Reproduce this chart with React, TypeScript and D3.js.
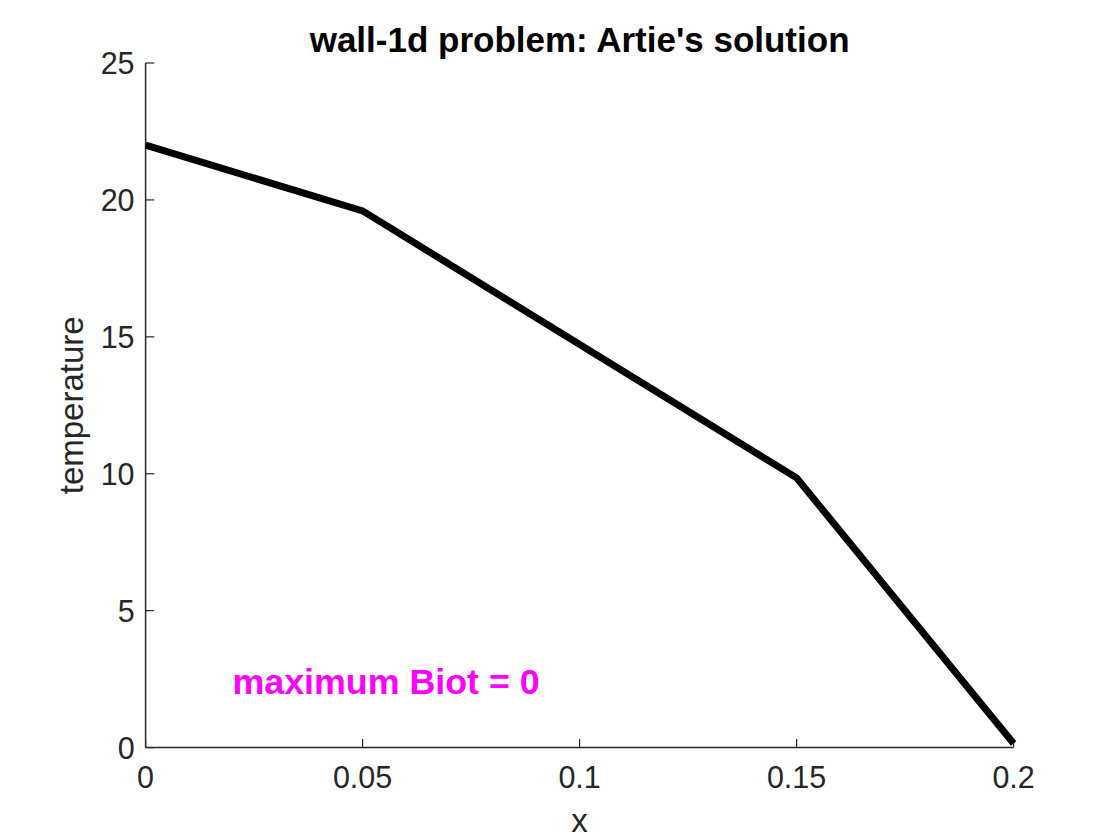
import React from "react";
import * as d3 from "d3";

const xValues = [0, 0.05, 0.15, 0.2];
const temperatures = [22.0, 19.6, 9.85, 0.15];
const xTicks = [0, 0.05, 0.1, 0.15, 0.2];
const yTicks = [0, 5, 10, 15, 20, 25];
const xTickLabels = ["0", "0.05", "0.1", "0.15", "0.2"];
const yTickLabels = ["0", "5", "10", "15", "20", "25"];
const titleText = "wall-1d problem: Artie's solution";
const xLabel = "x";
const yLabel = "temperature";
const annotation = { x: 0.02, y: 2.4, text: "maximum Biot = 0" };

const W = 1120;
const H = 840;
const left = 145.6;
const right = 1013.6;
const top = 63;
const bottom = 747.6;
const FONT = "Helvetica, Arial, 'Liberation Sans', sans-serif";
const AX = "#262626";

export default function App() {
  const x = d3.scaleLinear().domain([0, 0.2]).range([left, right]);
  const y = d3.scaleLinear().domain([0, 25]).range([bottom, top]);
  const line = d3
    .line<number>()
    .x((_, i) => x(xValues[i]))
    .y((d) => y(d));
  const tickLen = 8.7;

  return (
    <svg
      width={W}
      height={H}
      style={{ position: "absolute", left: 0, top: 0, background: "#fff" }}
      fontFamily={FONT}
    >
      <rect x={0} y={0} width={W} height={H} fill="#fff" />
      <line x1={left} x2={right} y1={bottom} y2={bottom} stroke={AX} strokeWidth={1.5} />
      <line x1={left} x2={left} y1={top} y2={bottom} stroke={AX} strokeWidth={1.5} />
      {xTicks.map((t, i) => (
        <g key={"xt" + i}>
          <line x1={x(t)} x2={x(t)} y1={bottom} y2={bottom - tickLen} stroke={AX} strokeWidth={1.2} />
          <text x={x(t)} y={788} textAnchor="middle" fontSize={30.5} fill={AX}>
            {xTickLabels[i]}
          </text>
        </g>
      ))}
      {yTicks.map((t, i) => (
        <g key={"yt" + i}>
          <line x1={left} x2={left + tickLen} y1={y(t)} y2={y(t)} stroke={AX} strokeWidth={1.2} />
          <text x={left - 11} y={y(t) + 11} textAnchor="end" fontSize={30.5} fill={AX}>
            {yTickLabels[i]}
          </text>
        </g>
      ))}
      <path
        d={line(temperatures) || ""}
        fill="none"
        stroke="#000"
        strokeWidth={7}
        strokeLinejoin="miter"
      />
      <text
        x={x(annotation.x)}
        y={y(annotation.y) + 12}
        fontSize={35.8}
        fontWeight="bold"
        fill="#ff00ff"
      >
        {annotation.text}
      </text>
      <text x={(left + right) / 2} y={52} textAnchor="middle" fontSize={35} fontWeight="bold" fill="#000">
        {titleText}
      </text>
      <text x={(left + right) / 2} y={832} textAnchor="middle" fontSize={33} fill={AX}>
        {xLabel}
      </text>
      <text
        transform={`translate(83,${(top + bottom) / 2}) rotate(-90)`}
        textAnchor="middle"
        fontSize={33}
        fill={AX}
      >
        {yLabel}
      </text>
    </svg>
  );
}
